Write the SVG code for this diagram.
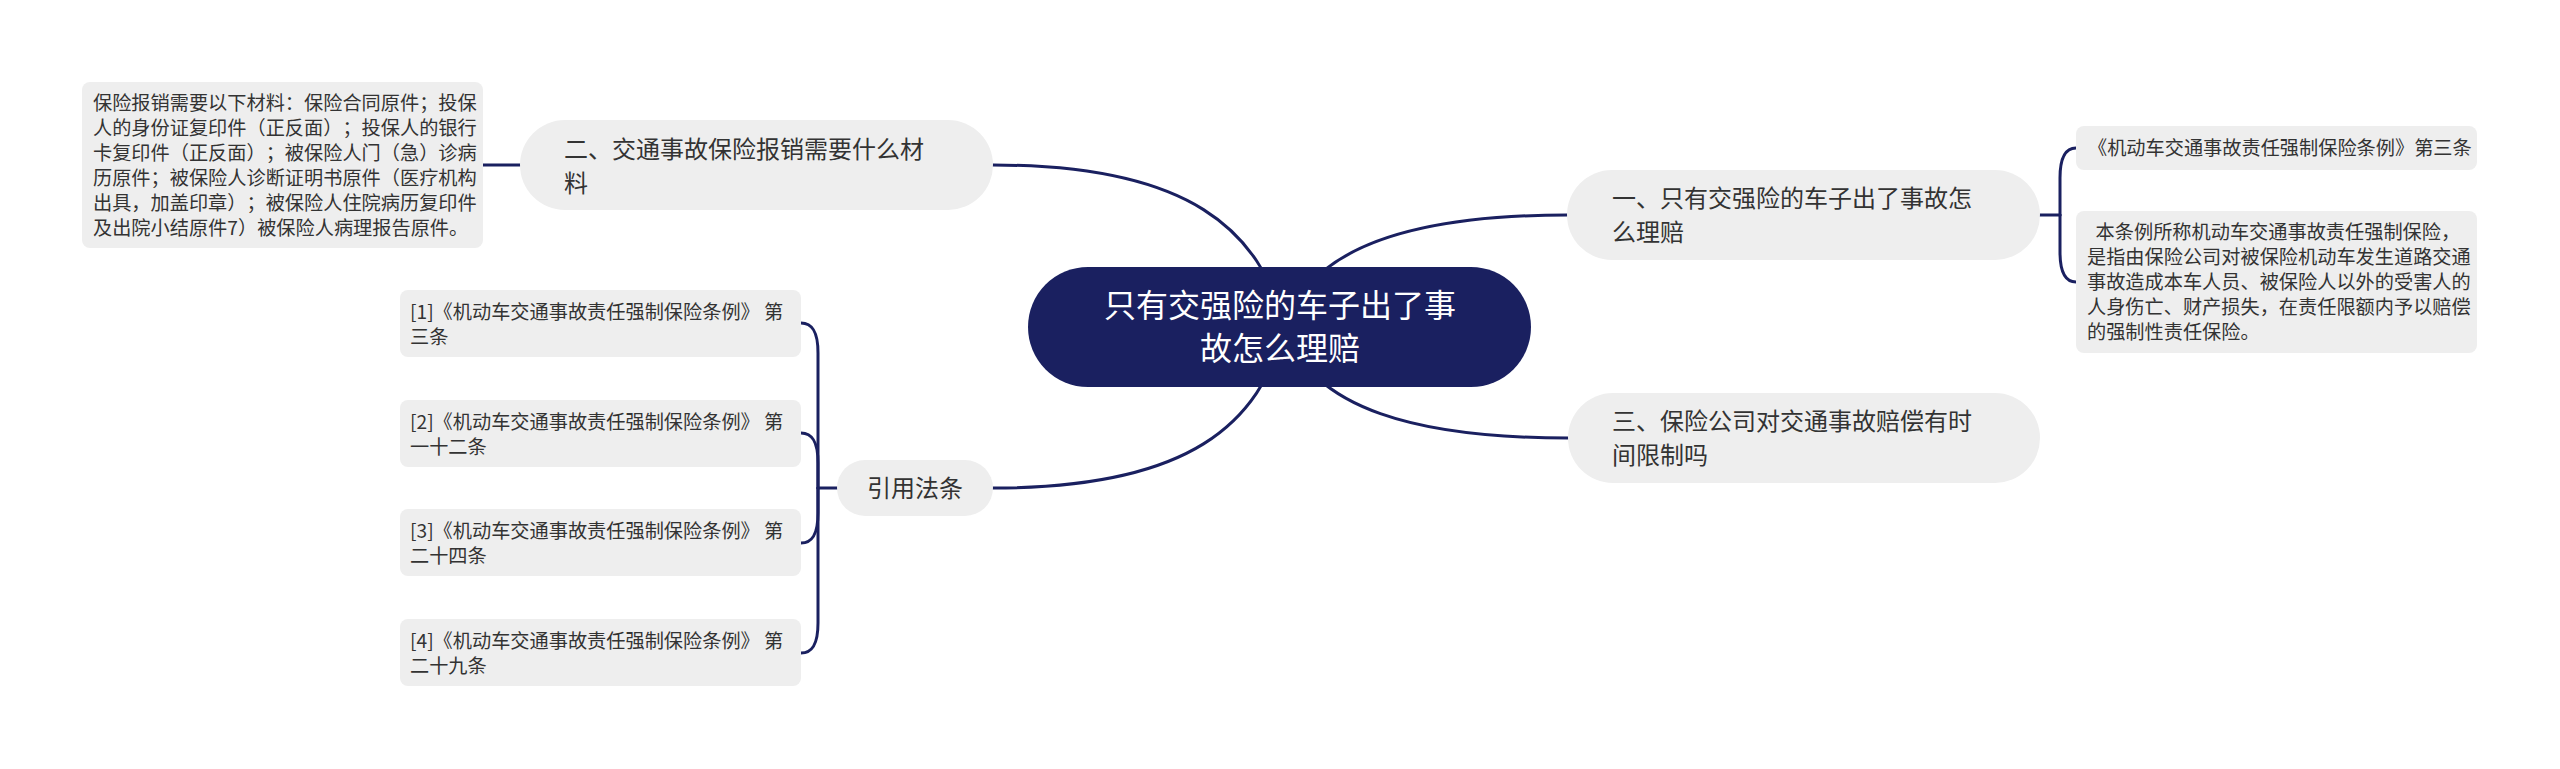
<svg xmlns="http://www.w3.org/2000/svg" width="2560" height="769" viewBox="0 0 2560 769">
<style>
text{font-family:"Noto Sans CJK SC","Noto Sans",sans-serif;fill:#333333;text-spacing-trim:space-all;}
.root{fill:#1a2060;}
.roott{fill:#ffffff;font-size:32px;text-anchor:middle;}
.n1{fill:#eeeeee;}
.t1{font-size:24px;}
.d{fill:#eeeeee;}
.td{font-size:19.2px;white-space:pre;}
.c{fill:none;stroke:#1a2060;stroke-width:3;stroke-linecap:round;}
</style>
<rect width="2560" height="769" fill="#ffffff"/>
<g id="connectors">
<path class="c" d="M993,165 C1190,165 1260,230 1285,327"/>
<path class="c" d="M1567,215 C1420,215 1310,245 1285,327"/>
<path class="c" d="M993,488 C1190,488 1260,424 1285,327"/>
<path class="c" d="M1568,438 C1420,438 1310,410 1285,327"/>
<path class="c" d="M520,165 H483"/>
<path class="c" d="M2040,215 H2060"/>
<path class="c" d="M2060,215 V178 C2060,156 2066,148 2076,148"/>
<path class="c" d="M2060,215 V252 C2060,274 2066,282 2076,282"/>
<path class="c" d="M837,488 H818"/>
<path class="c" d="M818,488 V353 C818,331 812,323 801,323"/>
<path class="c" d="M818,488 V463 C818,441 812,433 801,433"/>
<path class="c" d="M818,488 V513 C818,535 812,543 801,543"/>
<path class="c" d="M818,488 V623 C818,645 812,653 801,653"/>
</g>
<g id="root">
<rect class="root" x="1028" y="267" width="503" height="120" rx="60"/>
<text class="roott" x="1280" y="317">只有交强险的车子出了事</text>
<text class="roott" x="1280" y="360">故怎么理赔</text>
</g>
<g id="node-er">
<rect class="n1" x="520" y="120" width="473" height="90" rx="45"/>
<text class="t1" x="564" y="158">二、交通事故保险报销需要什么材</text>
<text class="t1" x="564" y="192">料</text>
</g>
<g id="node-er-detail">
<rect class="d" x="82" y="82" width="401" height="166" rx="8"/>
<text class="td" x="93" y="110">保险报销需要以下材料：保险合同原件；投保</text>
<text class="td" x="93" y="135">人的身份证复印件（正反面）；投保人的银行</text>
<text class="td" x="93" y="160">卡复印件（正反面）；被保险人门（急）诊病</text>
<text class="td" x="93" y="185">历原件；被保险人诊断证明书原件（医疗机构</text>
<text class="td" x="93" y="210">出具，加盖印章）；被保险人住院病历复印件</text>
<text class="td" x="93" y="235">及出院小结原件7）被保险人病理报告原件。</text>
</g>
<g id="node-yi">
<rect class="n1" x="1567" y="170" width="473" height="90" rx="45"/>
<text class="t1" x="1612" y="207">一、只有交强险的车子出了事故怎</text>
<text class="t1" x="1612" y="241">么理赔</text>
</g>
<g id="node-yi-a">
<rect class="d" x="2076" y="126" width="401" height="44" rx="8"/>
<text class="td" x="2088" y="155">《机动车交通事故责任强制保险条例》第三条</text>
</g>
<g id="node-yi-b">
<rect class="d" x="2076" y="211" width="401" height="142" rx="8"/>
<text class="td" x="2087" y="239" xml:space="preserve">  本条例所称机动车交通事故责任强制保险，</text>
<text class="td" x="2087" y="264">是指由保险公司对被保险机动车发生道路交通</text>
<text class="td" x="2087" y="289">事故造成本车人员、被保险人以外的受害人的</text>
<text class="td" x="2087" y="314">人身伤亡、财产损失，在责任限额内予以赔偿</text>
<text class="td" x="2087" y="339">的强制性责任保险。</text>
</g>
<g id="node-san">
<rect class="n1" x="1568" y="393" width="472" height="90" rx="45"/>
<text class="t1" x="1612" y="430">三、保险公司对交通事故赔偿有时</text>
<text class="t1" x="1612" y="464">间限制吗</text>
</g>
<g id="node-yinyong">
<rect class="n1" x="837" y="460" width="156" height="56" rx="28"/>
<text class="t1" x="915" y="497" text-anchor="middle">引用法条</text>
</g>
<g id="cite-1">
<rect class="d" x="400" y="290" width="401" height="67" rx="8"/>
<text class="td" x="410" y="319">[1]《机动车交通事故责任强制保险条例》 第</text>
<text class="td" x="410" y="344">三条</text>
</g>
<g id="cite-2">
<rect class="d" x="400" y="400" width="401" height="67" rx="8"/>
<text class="td" x="410" y="429">[2]《机动车交通事故责任强制保险条例》 第</text>
<text class="td" x="410" y="454">一十二条</text>
</g>
<g id="cite-3">
<rect class="d" x="400" y="509" width="401" height="67" rx="8"/>
<text class="td" x="410" y="538">[3]《机动车交通事故责任强制保险条例》 第</text>
<text class="td" x="410" y="563">二十四条</text>
</g>
<g id="cite-4">
<rect class="d" x="400" y="619" width="401" height="67" rx="8"/>
<text class="td" x="410" y="648">[4]《机动车交通事故责任强制保险条例》 第</text>
<text class="td" x="410" y="673">二十九条</text>
</g>
</svg>
